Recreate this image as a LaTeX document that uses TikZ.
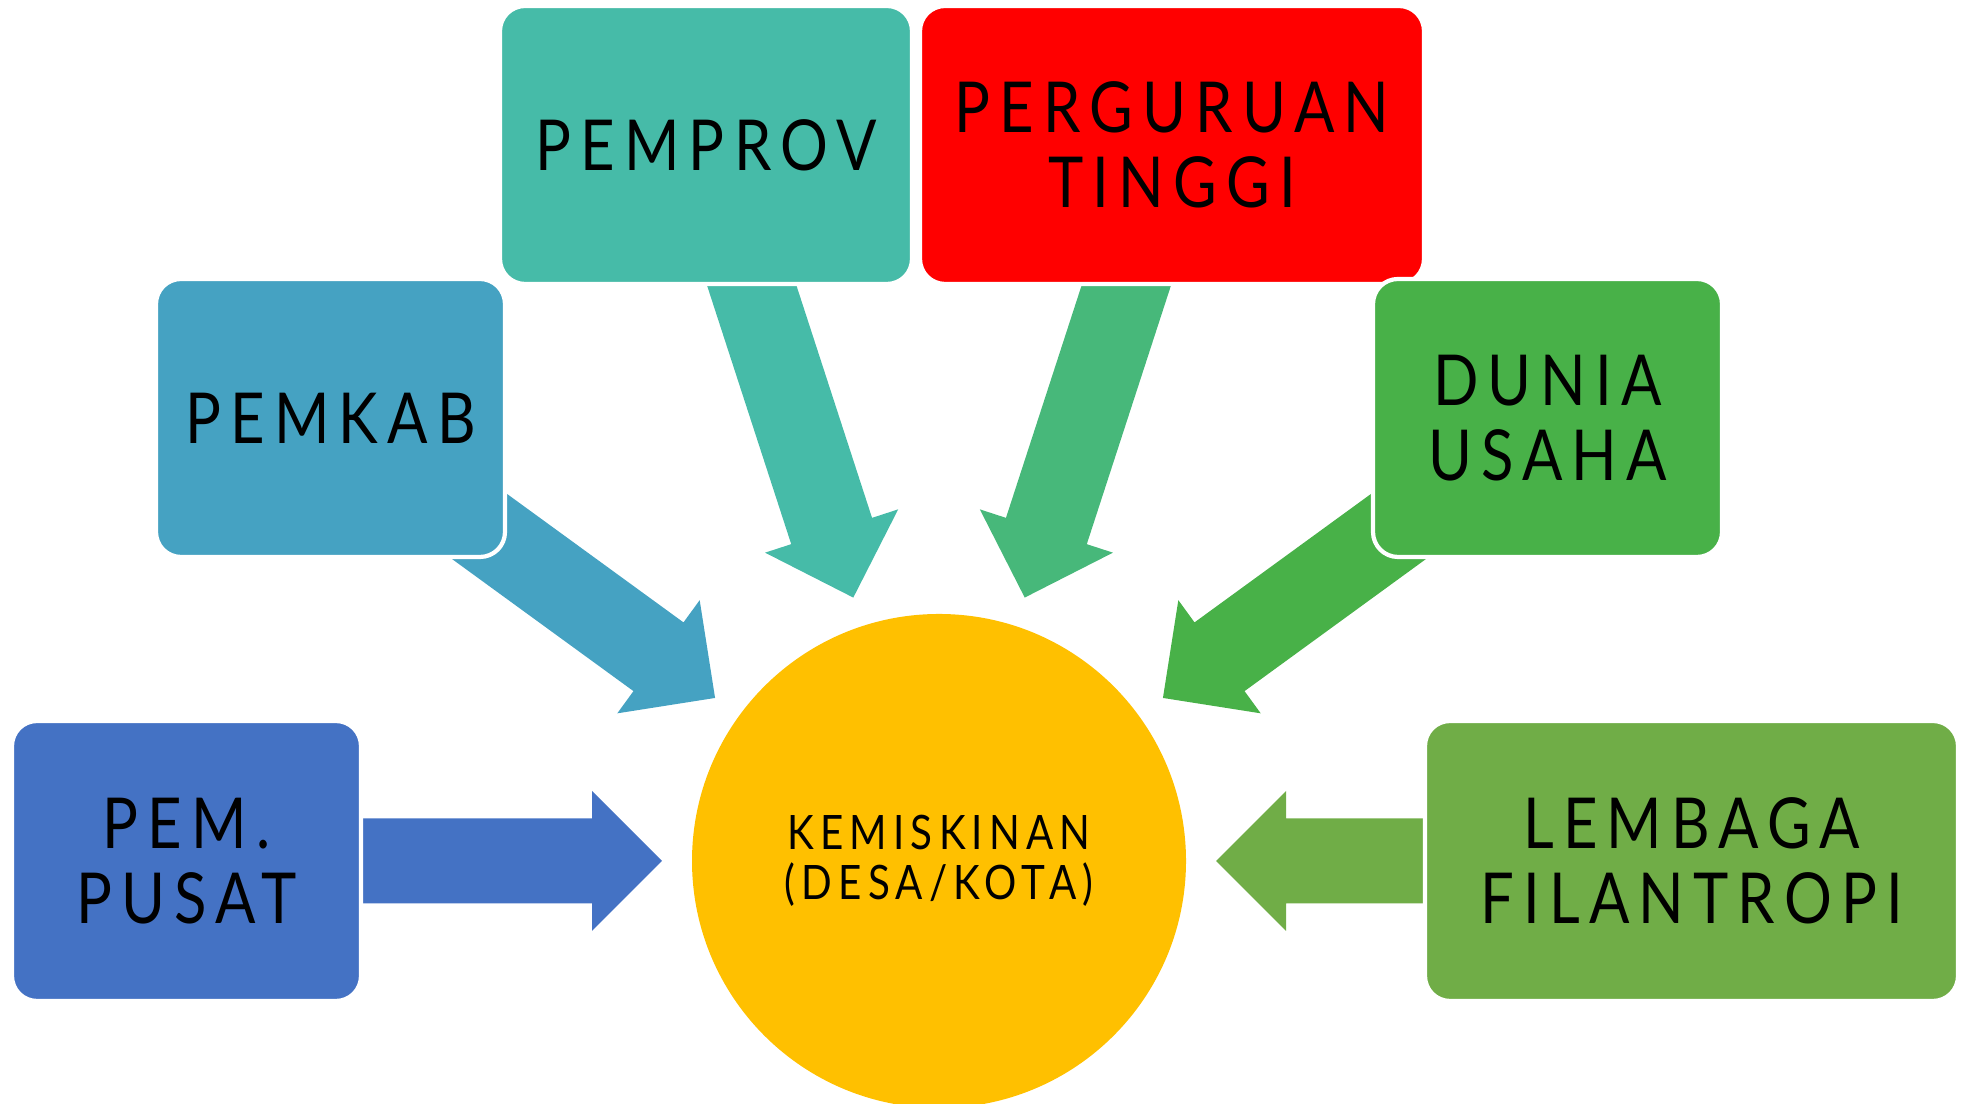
\documentclass[tikz,border=0pt]{standalone}
\usepackage{fontspec}
\newfontfamily\boxfont[FakeStretch=0.85,LetterSpace=13]{Lato}
\usetikzlibrary{calc, backgrounds}
\definecolor{pusatblue}{HTML}{4472C4}
\definecolor{pemkabblue}{HTML}{45A2C2}
\definecolor{pemprovteal}{HTML}{46BBA8}
\definecolor{ptred}{HTML}{FF0000}
\definecolor{ptgreen}{HTML}{47B87A}
\definecolor{duniagreen}{HTML}{48B148}
\definecolor{lembagagreen}{HTML}{70AD47}
\definecolor{kemgold}{HTML}{FFC000}

\begin{document}
\begin{tikzpicture}[
	actor/.style={rectangle, rounded corners=0.25cm, draw=white, line width=1.2pt,
		minimum width=3.49cm, minimum height=2.78cm, inner sep=0pt, align=center,
		font=\boxfont\fontsize{20}{21.3}\selectfont},
	target/.style={circle, fill=kemgold, minimum size=4.94cm, inner sep=0pt,
		align=center, font=\boxfont\fontsize{13.5}{14.2}\selectfont}]
	\useasboundingbox (0,0) rectangle (19.66,11.04);
	% the poverty target in the middle
	\node[target] (kem) at (9.39,2.43) {KEMISKINAN\\(DESA/KOTA)};
	% stakeholders round it (centres lie on rays of 36 degrees)
	\node[actor, fill=pusatblue, minimum height=2.80cm] (pusat) at (1.865,2.43) {PEM.\\PUSAT};
	\node[actor, fill=pemkabblue] (pemkab) at (3.305,6.86) {PEMKAB};
	\node[actor, fill=pemprovteal, minimum width=4.12cm] (pemprov) at (7.06,9.59) {PEMPROV};
	\node[actor, fill=ptred, minimum width=5.04cm] (pt) at (11.72,9.59) {PERGURUAN\\TINGGI};
	\node[actor, fill=duniagreen] (dunia) at (15.475,6.86) {DUNIA\\USAHA};
	\node[actor, fill=lembagagreen, minimum width=5.33cm, minimum height=2.80cm] (lembaga)
	at (16.915,2.43) {LEMBAGA\\FILANTROPI};
	% block arrows from each stakeholder into the circle, tails hidden under the boxes
	\begin{scope}[on background layer]
		\foreach \src/\col in {pusat/pusatblue, pemkab/pemkabblue, pemprov/pemprovteal,
			pt/ptgreen, dunia/duniagreen, lembaga/lembagagreen}
		\fill[\col] let \p1=($(\src.center)-(kem.center)$), \n1={atan2(\y1,\x1)} in
		($(kem.center)+(\n1:2.77)$)
		-- ($(kem.center)+(\n1:3.47)+(\n1+90:0.70)$)
		-- ($(kem.center)+(\n1:3.47)+(\n1+90:0.425)$)
		-- ($(kem.center)+(\n1:6.6)+(\n1+90:0.425)$)
		-- ($(kem.center)+(\n1:6.6)+(\n1-90:0.425)$)
		-- ($(kem.center)+(\n1:3.47)+(\n1-90:0.425)$)
		-- ($(kem.center)+(\n1:3.47)+(\n1-90:0.70)$) -- cycle;
	\end{scope}
\end{tikzpicture}
\end{document}
